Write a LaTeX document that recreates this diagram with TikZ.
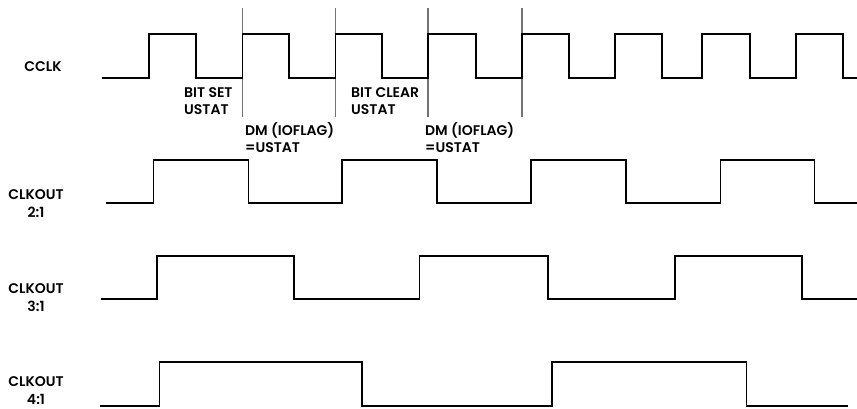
\documentclass[tikz,border=0pt]{standalone}
\usepackage{fontspec}
\setmainfont{Poppins}[BoldFont={Poppins SemiBold}]
\begin{document}
\begin{tikzpicture}[x=1pt,y=1pt,
      gelombang/.style={line width=1.6pt,line join=miter},
      penanda/.style={draw=gray!90!black,line width=1.2pt},
      nama/.style={font=\bfseries\fontsize{14}{18}\selectfont,align=center,inner sep=0pt},
      catatan/.style={font=\bfseries\fontsize{14}{17}\selectfont,align=left,inner sep=0pt,anchor=north west}]
    \useasboundingbox (0,0) rectangle (857,409);
    % Penanda waktu pada sisi naik CCLK
    \foreach \x in {242.5,335.5,428,522}
      \draw[penanda] (\x,292) -- (\x,401);
    % CCLK
    \node[nama] (cclk) at (43,342) {CCLK};
    \draw[gelombang] (102,331) -| (149,375) -| (196,331) -| (242.5,375)
      -| (289,331) -| (335.5,375) -| (382,331) -| (428,375) -| (476,331)
      -| (522,375) -| (569,331) -| (615,375) -| (662,331) -| (702,375)
      -| (750,331) -| (796,375) -| (843,331) -- (857,331);
    \node[catatan] (bitset) at (184,322) {BIT SET\\USTAT};
    \node[catatan] (dmsatu) at (245,287) {DM (IOFLAG)\\=USTAT};
    \node[catatan] (bitclear) at (351,322) {BIT CLEAR\\USTAT};
    \node[catatan] (dmdua) at (425,287) {DM (IOFLAG)\\=USTAT};
    % CLKOUT 2:1
    \node[nama] (clkoutdua) at (36,205) {CLKOUT\\2:1};
    \draw[gelombang] (106,206) -| (153.5,249) -| (248.5,206) -| (342,249)
      -| (437,206) -| (531,249) -| (626,206) -| (720.5,249)
      -| (814.5,206) -- (857,206);
    % CLKOUT 3:1
    \node[nama] (clkouttiga) at (36,111) {CLKOUT\\3:1};
    \draw[gelombang] (101,110) -| (157,153) -| (294,110) -| (419.5,153)
      -| (548,110) -| (675,153) -| (802,110) -- (857,110);
    % CLKOUT 4:1
    \node[nama] (clkoutempat) at (36,18.5) {CLKOUT\\4:1};
    \draw[gelombang] (100,3) -| (159.5,47) -| (362,3) -| (552,47)
      -| (746.5,3) -- (848,3);
  \end{tikzpicture}
\end{document}
